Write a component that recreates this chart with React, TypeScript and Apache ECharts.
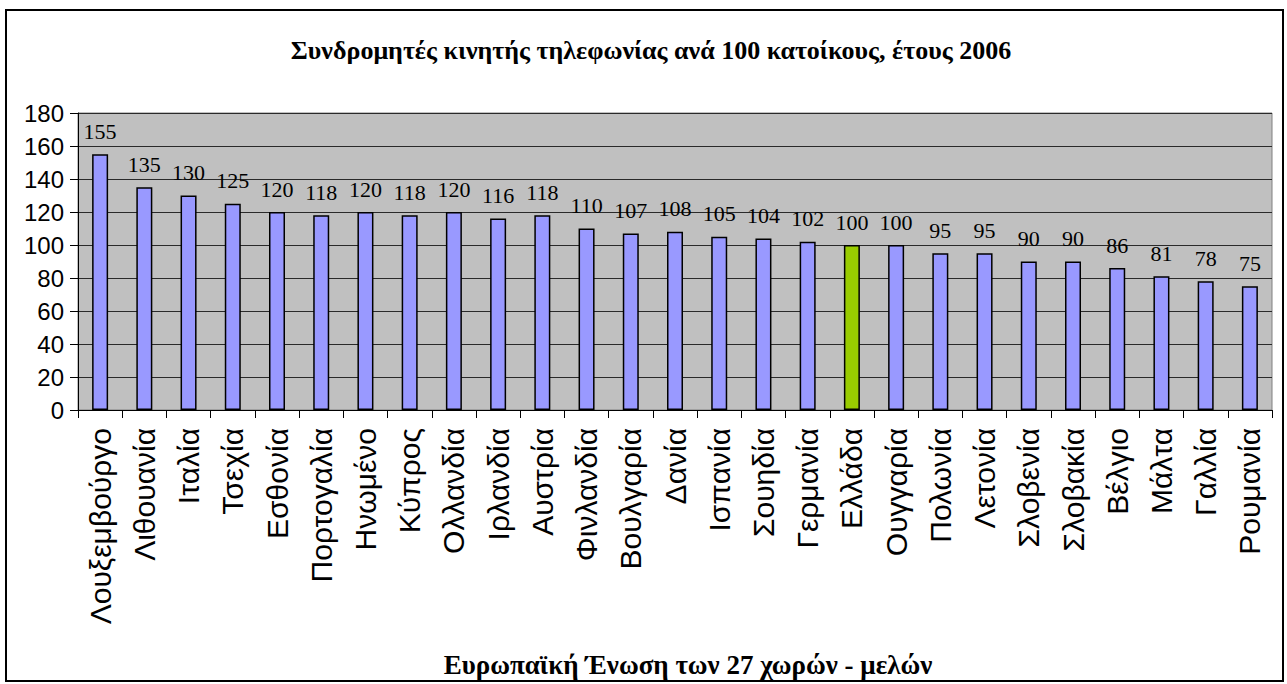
import React, { useEffect, useRef } from "react";
import * as echarts from "echarts";

const categories = [
  "Λουξεμβούργο", "Λιθουανία", "Ιταλία", "Τσεχία", "Εσθονία", "Πορτογαλία",
  "Ηνωμένο", "Κύπρος", "Ολλανδία", "Ιρλανδία", "Αυστρία", "Φινλανδία",
  "Βουλγαρία", "Δανία", "Ισπανία", "Σουηδία", "Γερμανία", "Ελλάδα",
  "Ουγγαρία", "Πολωνία", "Λετονία", "Σλοβενία", "Σλοβακία", "Βέλγιο",
  "Μάλτα", "Γαλλία", "Ρουμανία",
];
const values = [
  155, 135, 130, 125, 120, 118, 120, 118, 120, 116, 118, 110, 107, 108, 105,
  104, 102, 100, 100, 95, 95, 90, 90, 86, 81, 78, 75,
];
const highlighted = ["Ελλάδα"];
const yTicks = { min: 0, max: 180, interval: 20 };
const titleText = "Συνδρομητές κινητής τηλεφωνίας ανά 100 κατοίκους, έτους 2006";
const xAxisTitle = "Ευρωπαϊκή Ένωση των 27 χωρών - μελών";

export default function App() {
  const ref = useRef<HTMLDivElement>(null);
  useEffect(() => {
    if (!ref.current) return;
    const chart = echarts.init(ref.current, undefined, { renderer: "svg" });
    const serif = "'Liberation Serif', 'Times New Roman', serif";
    const sans = "'Liberation Sans', Arial, sans-serif";
    chart.setOption({
      animation: false,
      backgroundColor: "#ffffff",
      title: [
        {
          text: titleText,
          left: 646,
          top: 32,
          textAlign: "center",
          textStyle: { fontFamily: serif, fontWeight: "bold", fontSize: 26, color: "#000" },
        },
        {
          text: xAxisTitle,
          left: 683,
          top: 646,
          textAlign: "center",
          textStyle: { fontFamily: serif, fontWeight: "bold", fontSize: 27, color: "#000" },
        },
      ],
      graphic: [
        {
          type: "rect",
          shape: { x: 6, y: 10, width: 1277, height: 671 },
          style: { fill: "none", stroke: "#000", lineWidth: 2 },
          silent: true,
        },
      ],
      grid: {
        left: 78,
        right: 15,
        top: 113,
        bottom: 274,
        show: true,
        backgroundColor: "#C0C0C0",
        borderColor: "#808080",
        borderWidth: 1,
      },
      xAxis: {
        type: "category",
        data: categories,
        axisLine: { show: true, lineStyle: { color: "#000", width: 1 } },
        axisTick: { show: true, length: 8, lineStyle: { color: "#000" } },
        axisLabel: {
          rotate: 90,
          interval: 0,
          margin: 18,
          fontFamily: sans,
          fontSize: 30,
          color: "#000",
        },
        splitLine: { show: false },
      },
      yAxis: {
        type: "value",
        min: yTicks.min,
        max: yTicks.max,
        interval: yTicks.interval,
        axisLine: { show: true, lineStyle: { color: "#000", width: 1 } },
        axisTick: { show: true, length: 8, lineStyle: { color: "#000" } },
        axisLabel: { fontFamily: sans, fontSize: 24, color: "#000", margin: 14 },
        splitLine: { show: true, lineStyle: { color: "#2a2a2a", width: 1 } },
      },
      series: [
        {
          type: "bar",
          barWidth: 16,
          data: values.map((v, i) => ({
            value: v,
            itemStyle: {
              color: highlighted.includes(categories[i]) ? "#99CC00" : "#9999FF",
            },
          })),
          itemStyle: { borderColor: "#000", borderWidth: 1.5 },
          label: {
            show: true,
            position: "top",
            distance: 12,
            fontFamily: serif,
            fontSize: 22,
            color: "#000",
          },
        },
      ],
    });
    return () => chart.dispose();
  }, []);
  return (
    <div
      ref={ref}
      style={{ position: "absolute", left: 0, top: 0, width: 1287, height: 684 }}
    />
  );
}
